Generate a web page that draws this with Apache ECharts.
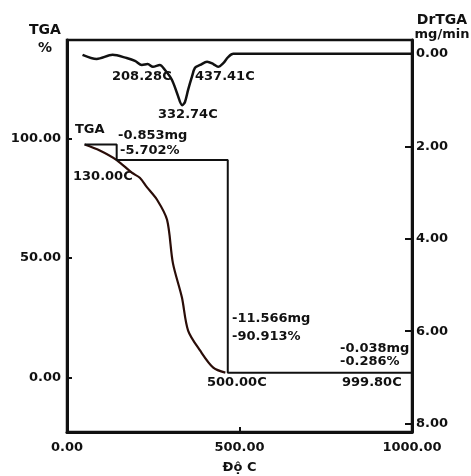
<!DOCTYPE html>
<html>
<head>
<meta charset="utf-8">
<script src="https://cdn.jsdelivr.net/npm/echarts@6/dist/echarts.min.js"></script>
<style>
  html, body { margin: 0; padding: 0; background: #fff; }
  #chart { width: 471px; height: 476px; }
</style>
</head>
<body>
<div id="chart"></div>
<script>
// DrTGA curve (temperature C, rate mg/min)
var drtgaTemp = [45, 86, 132, 173, 197, 217, 234, 249, 269, 284, 304, 319, 334, 342, 351, 362, 371, 386, 406, 424, 438, 453, 467, 482, 1000];
var drtgaRate = [0.02, 0.11, 0.02, 0.09, 0.15, 0.24, 0.22, 0.28, 0.24, 0.35, 0.56, 0.85, 1.11, 1.04, 0.78, 0.50, 0.30, 0.24, 0.17, 0.22, 0.28, 0.20, 0.07, 0.0, 0.0];

// TGA curve (temperature C, mass %)
var tgaTemp = [51, 95, 144, 188, 211, 231, 261, 290, 307, 333, 351, 386, 424, 459];
var tgaMass = [97.5, 95.0, 91.0, 85.7, 83.6, 79.8, 74.4, 66.0, 47.9, 33.6, 19.7, 11.3, 4.2, 2.1];

// step marker lines
var stepTemp = [51, 144, 144, 466, 466, 1000];
var stepMass = [97.5, 97.5, 91.0, 91.0, 2.1, 2.1];

var xTicks = [0, 500, 1000];
var leftTicks = [0, 50, 100];
var rightTicks = [0, 2, 4, 6, 8];

var FONT = 'DejaVu Sans';

function pairs(a, b) {
    var out = [];
    for (var i = 0; i < a.length; i++) out.push([a[i], b[i]]);
    return out;
}

function txt(s, x, y, size, align) {
    return {
        type: 'text', x: x, y: y,
        style: {
            text: s, fill: '#111',
            font: 'bold ' + (size || 13) + 'px "' + FONT + '"',
            textAlign: align || 'left', textVerticalAlign: 'middle'
        }
    };
}

var chart = echarts.init(document.getElementById('chart'));
var labelStyle = { color: '#111', fontFamily: FONT, fontWeight: 'bold', fontSize: 13 };

var option = {
    backgroundColor: '#fff',
    animation: false,
    grid: {
        left: 67, right: 59, top: 40, bottom: 44,
        outerBoundsMode: 'none', containLabel: false,
        show: true, borderColor: '#111', borderWidth: 2.5
    },
    xAxis: {
        type: 'value', min: 0, max: 1000,
        axisLine: { onZero: false, lineStyle: { color: '#111', width: 3 } },
        axisTick: { inside: true, length: 5, lineStyle: { color: '#111', width: 2 }, customValues: xTicks },
        axisLabel: Object.assign({ margin: 9, customValues: xTicks, formatter: function (v) { return v.toFixed(2); } }, labelStyle),
        splitLine: { show: false },
        name: 'Độ C', nameLocation: 'middle', nameGap: 29,
        nameTextStyle: labelStyle
    },
    yAxis: [{
        type: 'value', min: -22.7, max: 141.2, position: 'left',
        axisLine: { show: true, onZero: false, lineStyle: { color: '#111', width: 3 } },
        axisTick: { show: true, inside: true, length: 5, lineStyle: { color: '#111', width: 2 }, customValues: leftTicks },
        axisLabel: Object.assign({ margin: 6, customValues: leftTicks, formatter: function (v) { return v.toFixed(2); } }, labelStyle),
        splitLine: { show: false }
    }, {
        type: 'value', min: -0.3, max: 8.18, inverse: true, position: 'right',
        axisLine: { show: true, onZero: false, lineStyle: { color: '#111', width: 3 } },
        axisTick: { show: true, inside: true, length: 7, lineStyle: { color: '#111', width: 2 }, customValues: rightTicks },
        axisLabel: Object.assign({ margin: 4, customValues: rightTicks, formatter: function (v) { return v.toFixed(2); } }, labelStyle),
        splitLine: { show: false }
    }],
    series: [{
        name: 'DrTGA', type: 'line', yAxisIndex: 1,
        data: pairs(drtgaTemp, drtgaRate),
        smooth: 0.3, showSymbol: false,
        lineStyle: { color: '#111', width: 2.5 }
    }, {
        name: 'TGA', type: 'line', yAxisIndex: 0,
        data: pairs(tgaTemp, tgaMass),
        smooth: 0.3, showSymbol: false,
        lineStyle: { color: '#2a0d08', width: 2.2 }
    }, {
        name: 'steps', type: 'line', yAxisIndex: 0,
        data: pairs(stepTemp, stepMass),
        showSymbol: false,
        lineStyle: { color: '#111', width: 2 }
    }],
    graphic: [
        txt('TGA', 45, 30, 14, 'center'),
        txt('%', 45, 48, 14, 'center'),
        txt('DrTGA', 442, 20, 14, 'center'),
        txt('mg/min', 442, 35, 13, 'center'),
        txt('TGA', 75, 130),
        txt('-0.853mg', 118, 136),
        txt('-5.702%', 120, 151),
        txt('130.00C', 73, 177),
        txt('208.28C', 112, 77),
        txt('332.74C', 158, 115),
        txt('437.41C', 195, 77),
        txt('-11.566mg', 232, 319),
        txt('-90.913%', 232, 337),
        txt('-0.038mg', 340, 349),
        txt('-0.286%', 340, 362),
        txt('500.00C', 207, 383),
        txt('999.80C', 342, 383)
    ]
};

chart.setOption(option);
</script>
</body>
</html>
